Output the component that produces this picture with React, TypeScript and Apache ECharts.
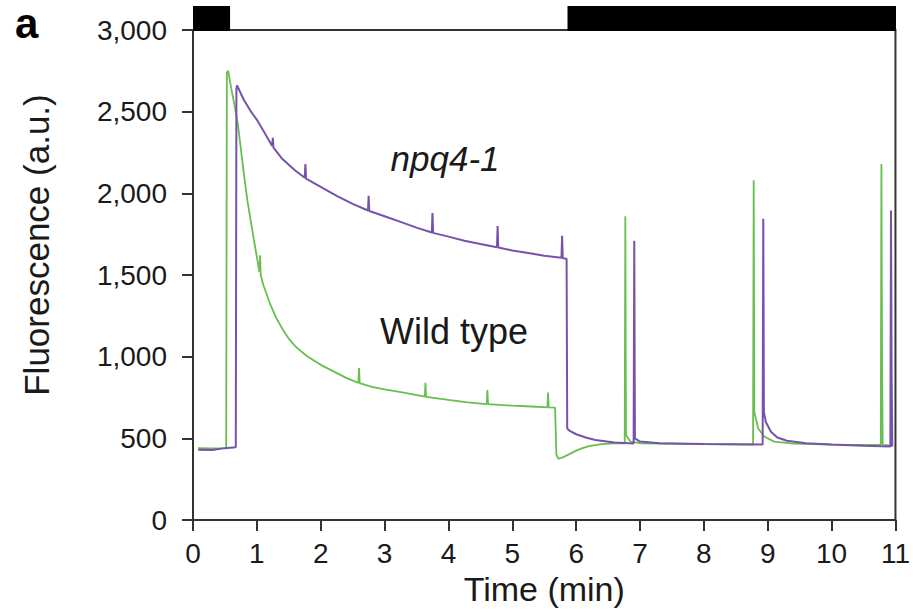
import React, { useEffect, useRef } from "react";
import * as echarts from "echarts";

// Time (min) vs fluorescence (a.u.)
const wildType: [number, number][] = [
  [0.08, 440], [0.3, 438], [0.52, 440], [0.53, 2740], [0.55, 2750], [0.6, 2640], [0.65, 2540],
  [0.7, 2430], [0.75, 2270], [0.8, 2110], [0.85, 1960], [0.93, 1770], [1.0, 1610], [1.04, 1520],
  [1.05, 1620], [1.06, 1500], [1.1, 1440], [1.2, 1330], [1.3, 1240], [1.4, 1170], [1.5, 1110],
  [1.6, 1065], [1.7, 1030], [1.8, 1000], [2.0, 950], [2.2, 910], [2.4, 870], [2.59, 840],
  [2.6, 930], [2.61, 838], [2.8, 815], [3.0, 800], [3.3, 780], [3.63, 755], [3.64, 840],
  [3.65, 754], [4.0, 735], [4.3, 720], [4.6, 710], [4.61, 795], [4.62, 709], [5.0, 700],
  [5.3, 695], [5.55, 690], [5.56, 780], [5.57, 690], [5.67, 688], [5.69, 400], [5.72, 375],
  [5.8, 385], [5.9, 405], [6.0, 425], [6.1, 440], [6.2, 452], [6.4, 465], [6.6, 470],
  [6.76, 470], [6.77, 1860], [6.78, 520], [6.85, 480], [7.0, 470], [8.0, 465], [8.77, 462],
  [8.78, 2080], [8.79, 660], [8.85, 560], [8.95, 510], [9.1, 480], [9.4, 468], [10.0, 462],
  [10.77, 460], [10.78, 2180], [10.79, 1000], [10.8, 460], [10.95, 455],
];

const npq41: [number, number][] = [
  [0.08, 430], [0.3, 428], [0.5, 440], [0.67, 446], [0.68, 2640], [0.69, 2660], [0.75, 2610],
  [0.8, 2570], [0.9, 2505], [1.0, 2450], [1.1, 2385], [1.24, 2290], [1.25, 2340], [1.26, 2280],
  [1.4, 2210], [1.6, 2140], [1.75, 2095], [1.76, 2180], [1.77, 2090], [2.0, 2040], [2.25, 1985],
  [2.5, 1935], [2.74, 1895], [2.75, 1985], [2.76, 1892], [3.0, 1860], [3.25, 1825], [3.5, 1790],
  [3.74, 1760], [3.75, 1880], [3.76, 1758], [4.0, 1735], [4.25, 1710], [4.5, 1690], [4.76, 1670],
  [4.77, 1800], [4.78, 1668], [5.0, 1650], [5.25, 1635], [5.5, 1618], [5.77, 1605], [5.78, 1740],
  [5.79, 1602], [5.85, 1600], [5.86, 560], [5.9, 545], [6.0, 525], [6.15, 505], [6.3, 490],
  [6.6, 475], [6.9, 468], [6.91, 1710], [6.92, 500], [7.0, 480], [7.3, 470], [8.0, 466],
  [8.92, 463], [8.93, 1845], [8.94, 660], [8.97, 600], [9.05, 540], [9.15, 505], [9.3, 485],
  [9.6, 470], [10.0, 462], [10.5, 455], [10.92, 450], [10.93, 1895], [10.94, 880], [10.95, 450],
];

// Dark periods (black bars above the plot), in minutes
const darkPeriods: [number, number][] = [
  [0, 0.58],
  [5.86, 11],
];

const X_MIN = 0;
const X_MAX = 11;
const Y_MIN = 0;
const Y_MAX = 3000;

const FONT = '"Liberation Sans", Arial, Helvetica, sans-serif';

export default function App() {
  const ref = useRef<HTMLDivElement>(null);

  useEffect(() => {
    if (!ref.current) return;
    const chart = echarts.init(ref.current, undefined, { renderer: "svg" });
    const axisColor = "#333";
    const textColor = "#1a1a1a";

    chart.setOption({
      animation: false,
      backgroundColor: "#fff",
      textStyle: { fontFamily: FONT },
      grid: [
        {
          left: 193, right: 17, top: 30, bottom: 92,
          show: true, borderColor: axisColor, borderWidth: 2, backgroundColor: "transparent",
        },
        { left: 193, right: 17, top: 6, height: 25 },
      ],
      xAxis: [
        {
          type: "value", gridIndex: 0, min: X_MIN, max: X_MAX, interval: 1,
          name: "Time (min)", nameLocation: "middle", nameGap: 52,
          nameTextStyle: { fontSize: 34, color: textColor, fontFamily: FONT },
          axisLine: { show: true, lineStyle: { color: axisColor, width: 2 } },
          axisTick: { show: true, length: 11, lineStyle: { color: axisColor, width: 2 } },
          axisLabel: { fontSize: 28, color: textColor, margin: 19, fontFamily: FONT },
          splitLine: { show: false },
        },
        {
          type: "value", gridIndex: 1, min: X_MIN, max: X_MAX, show: false,
        },
      ],
      yAxis: [
        {
          type: "value", gridIndex: 0, min: Y_MIN, max: Y_MAX, interval: 500,
          axisLine: { show: true, lineStyle: { color: axisColor, width: 2 } },
          axisTick: { show: true, length: 11, lineStyle: { color: axisColor, width: 2 } },
          axisLabel: {
            fontSize: 28, color: textColor, margin: 26, fontFamily: FONT,
            formatter: (v: number) => v.toLocaleString("en-US"),
          },
          splitLine: { show: false },
        },
        { type: "value", gridIndex: 1, min: 0, max: 1, show: false },
      ],
      series: [
        {
          name: "Wild type", type: "line", xAxisIndex: 0, yAxisIndex: 0,
          data: wildType, showSymbol: false, symbol: "none",
          lineStyle: { color: "#66bf4f", width: 1.8 }, z: 2,
        },
        {
          name: "npq4-1", type: "line", xAxisIndex: 0, yAxisIndex: 0,
          data: npq41, showSymbol: false, symbol: "none",
          lineStyle: { color: "#7752aa", width: 2 }, z: 3,
        },
        {
          type: "custom", xAxisIndex: 1, yAxisIndex: 1, data: darkPeriods,
          renderItem: (params: any, api: any) => {
            const p0 = api.coord([api.value(0), 1]);
            const p1 = api.coord([api.value(1), 0]);
            return {
              type: "rect",
              shape: { x: p0[0], y: p0[1], width: p1[0] - p0[0], height: p1[1] - p0[1] },
              style: { fill: "#000" },
            };
          },
          z: 4,
        },
      ],
      graphic: [
        {
          type: "text", x: 36, y: 245, rotation: Math.PI / 2,
          style: {
            text: "Fluorescence (a.u.)", font: `35px ${FONT}`, fill: textColor,
            align: "center", verticalAlign: "middle",
          },
        },
        {
          type: "text", x: 15, y: 23,
          style: { text: "a", font: `bold 42px ${FONT}`, fill: "#000", align: "left", verticalAlign: "middle" },
        },
        {
          type: "text", x: 445, y: 158,
          style: { text: "npq4-1", font: `italic 35px ${FONT}`, fill: textColor, align: "center", verticalAlign: "middle" },
        },
        {
          type: "text", x: 454, y: 331,
          style: { text: "Wild type", font: `36px ${FONT}`, fill: textColor, align: "center", verticalAlign: "middle" },
        },
      ],
    });

    return () => chart.dispose();
  }, []);

  return <div ref={ref} style={{ width: 913, height: 612, position: "absolute", left: 0, top: 0 }} />;
}
